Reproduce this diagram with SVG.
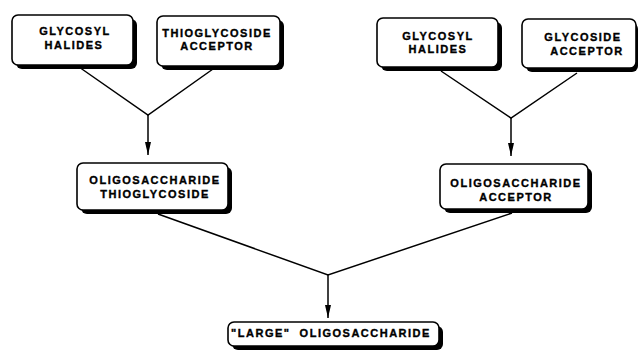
<svg xmlns="http://www.w3.org/2000/svg" width="641" height="354" viewBox="0 0 641 354">
<style>
.box{fill:#fff;stroke:#000;stroke-width:1.6}
.sh{fill:#000}
.t{font-family:"Liberation Sans",Arial,sans-serif;font-weight:bold;font-size:11px;letter-spacing:1.5px;text-anchor:middle;fill:#000;stroke:#000;stroke-width:0.35}
.c{stroke:#000;stroke-width:1.5;fill:none}
</style>
<defs>
<marker id="ah" markerUnits="userSpaceOnUse" markerWidth="14" markerHeight="6" refX="13" refY="3" orient="auto">
<path d="M0,0 L13,3 L0,6 z" fill="#000"/>
</marker>
</defs>
<rect width="641" height="354" fill="#fff"/>
<g id="connectors">
<polyline class="c" points="79,67 148,115 213,69"/>
<line class="c" x1="148" y1="115" x2="148" y2="155" marker-end="url(#ah)"/>
<polyline class="c" points="441,71 511,118 577,73"/>
<line class="c" x1="511" y1="118" x2="511" y2="156" marker-end="url(#ah)"/>
<polyline class="c" points="158,214 328,275 512,213"/>
<line class="c" x1="328" y1="275" x2="328" y2="318" marker-end="url(#ah)"/>
</g>
<g id="glycosyl-halides-1">
<rect class="sh" x="16" y="19" width="121" height="50" rx="6"/>
<rect class="box" x="12" y="15" width="121" height="50" rx="6"/>
<text class="t" x="75" y="35">GLYCOSYL</text>
<text class="t" x="74" y="49">HALIDES</text>
</g>
<g id="thioglycoside-acceptor">
<rect class="sh" x="161" y="20" width="123" height="50" rx="6"/>
<rect class="box" x="157" y="16" width="123" height="50" rx="6"/>
<text class="t" x="217" y="36.5">THIOGLYCOSIDE</text>
<text class="t" x="217" y="50">ACCEPTOR</text>
</g>
<g id="glycosyl-halides-2">
<rect class="sh" x="381" y="22" width="121" height="49" rx="6"/>
<rect class="box" x="377" y="18" width="121" height="49" rx="6"/>
<text class="t" x="438" y="39.5">GLYCOSYL</text>
<text class="t" x="438" y="53">HALIDES</text>
</g>
<g id="glycoside-acceptor">
<rect class="sh" x="526" y="23" width="112" height="49" rx="6"/>
<rect class="box" x="522" y="19" width="114" height="49" rx="6"/>
<text class="t" x="583" y="41">GLYCOSIDE</text>
<text class="t" x="587" y="55">ACCEPTOR</text>
</g>
<g id="oligosaccharide-thioglycoside">
<rect class="sh" x="81" y="167" width="151" height="47" rx="6"/>
<rect class="box" x="77" y="163" width="151" height="47" rx="6"/>
<text class="t" x="155" y="184">OLIGOSACCHARIDE</text>
<text class="t" x="155" y="198">THIOGLYCOSIDE</text>
</g>
<g id="oligosaccharide-acceptor">
<rect class="sh" x="444" y="168" width="148" height="45" rx="6"/>
<rect class="box" x="440" y="164" width="148" height="45" rx="6"/>
<text class="t" x="516" y="187">OLIGOSACCHARIDE</text>
<text class="t" x="516" y="201">ACCEPTOR</text>
</g>
<g id="large-oligosaccharide">
<rect class="sh" x="232" y="326" width="211" height="24" rx="6"/>
<rect class="box" x="228" y="322" width="211" height="24" rx="6"/>
<text class="t" x="331" y="337" xml:space="preserve">"LARGE"  OLIGOSACCHARIDE</text>
</g>
</svg>
